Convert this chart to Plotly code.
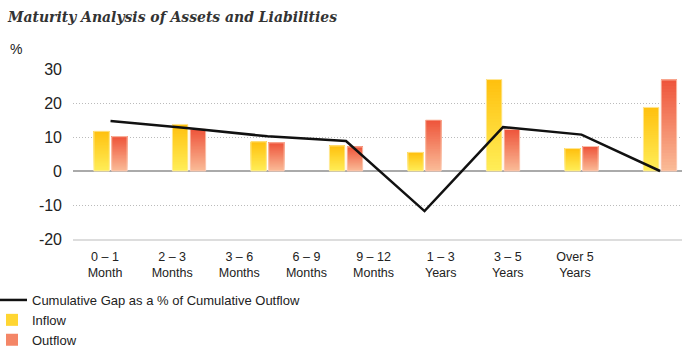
import plotly.graph_objects as go

# ---------------- data ----------------
categories = ["0 – 1<br>Month", "2 – 3<br>Months", "3 – 6<br>Months", "6 – 9<br>Months",
              "9 – 12<br>Months", "1 – 3<br>Years", "3 – 5<br>Years", "Over 5<br>Years"]
inflow = [11.7, 13.7, 8.6, 7.4, 5.5, 26.9, 6.6, 18.7]
outflow = [10.1, 12.3, 8.3, 7.1, 15.0, 12.2, 7.2, 26.8]
cum_gap = [14.7, 12.6, 10.2, 8.8, -11.8, 12.9, 10.7, 0.0]
y_ticks = [-20, -10, 0, 10, 20, 30]
y_tick_labels = ["-20", "-10", "0", "10", "20", "30"]

# ---------------- styling ----------------
N_SEG = 30
IN_BOTTOM, IN_TOP = (255, 238, 88), (255, 192, 14)
OUT_BOTTOM, OUT_TOP = (250, 188, 152), (238, 84, 58)
BAR_W = 0.197
IN_OFF, OUT_OFF = -0.212, 0.015
SANS = "Liberation Sans, Arial, Helvetica, sans-serif"


def mix(c0, c1, t):
    return "rgb(%d,%d,%d)" % tuple(round(a + (b - a) * t) for a, b in zip(c0, c1))


pos = list(range(len(categories)))
fig = go.Figure()

# gradient bars: nested bars, each starting higher and drawn on top of the previous
for values, name, c0, c1, off, rank, edge in [
    (inflow, "Inflow", IN_BOTTOM, IN_TOP, IN_OFF, 2, "rgba(255,236,170,0.9)"),
    (outflow, "Outflow", OUT_BOTTOM, OUT_TOP, OUT_OFF, 3, "rgba(252,205,185,0.9)"),
]:
    for k in range(N_SEG):
        fig.add_trace(go.Bar(
            x=pos, y=[v * (1 - k / N_SEG) for v in values],
            base=[v * k / N_SEG for v in values],
            offset=off, width=BAR_W, xaxis="x", yaxis="y",
            marker=dict(color=mix(c0, c1, (k + 0.5) / N_SEG), line=dict(width=0)),
            name=name, legendgroup=name, legendrank=rank,
            showlegend=(k == N_SEG // 2), hoverinfo="skip",
        ))
    fig.add_trace(go.Bar(
        x=pos, y=values, offset=off, width=BAR_W, xaxis="x", yaxis="y",
        marker=dict(color="rgba(0,0,0,0)", line=dict(width=1, color=edge)),
        name=name, legendgroup=name, showlegend=False, hoverinfo="skip",
    ))

fig.add_trace(go.Scatter(
    x=pos, y=cum_gap, mode="lines", xaxis="x", yaxis="y",
    line=dict(color="#111111", width=2.5),
    name="Cumulative Gap as a % of Cumulative Outflow", legendrank=1,
))

fig.update_layout(
    width=690, height=352,
    margin=dict(l=73, r=8, t=69, b=113, autoexpand=False),
    paper_bgcolor="white", plot_bgcolor="white",
    barmode="overlay",
    font=dict(family=SANS, size=13, color="#222222"),
    title=dict(
        text="Maturity Analysis of Assets and Liabilities",
        font=dict(family="DejaVu Serif Condensed, DejaVu Serif, serif", size=15.5,
                  weight="bold", style="italic", color="#333333"),
        xref="container", x=8 / 690, xanchor="left",
        yref="container", y=1 - 17 / 352, yanchor="middle",
    ),
    xaxis=dict(
        range=[-0.478, 7.28], showticklabels=False, showgrid=False, zeroline=False,
        showline=True, linecolor="#dddddd", linewidth=2, ticks="",
    ),
    xaxis2=dict(
        overlaying="x", anchor="y", side="bottom",
        range=[-0.477, 8.594], tickmode="array", tickvals=pos, ticktext=categories,
        showgrid=False, zeroline=False, showline=False, ticks="", tickangle=0,
        ticklabelstandoff=8, tickfont=dict(family=SANS, size=12.5, color="#222222"),
    ),
    yaxis=dict(
        range=[-20, 30], tickmode="array", tickvals=y_ticks, ticktext=y_tick_labels,
        showgrid=True, gridcolor="#bbbbbb", gridwidth=1, griddash="1px,2px",
        zeroline=True, zerolinecolor="#aaaaaa", zerolinewidth=2,
        ticks="", ticklabelstandoff=10,
        tickfont=dict(family=SANS, size=16, color="#222222"),
    ),
    legend=dict(
        xref="paper", yref="container", x=(-8 - 73) / 609, xanchor="left",
        y=1 - 285 / 352, yanchor="top", orientation="v", tracegroupgap=0,
        font=dict(family=SANS, size=13, color="#222222"),
        bgcolor="rgba(0,0,0,0)", traceorder="normal",
    ),
    annotations=[dict(
        text="%", xref="paper", yref="paper", x=(8 - 73) / 609, y=(239 - 49) / 170,
        xanchor="left", yanchor="middle", showarrow=False,
        font=dict(family=SANS, size=14, color="#222222"),
    )],
)

# attach an invisible trace to the label axis so it is rendered
fig.add_trace(go.Scatter(x=[None], y=[None], xaxis="x2", yaxis="y", showlegend=False,
                         hoverinfo="skip"))

fig.write_html("out.html")
